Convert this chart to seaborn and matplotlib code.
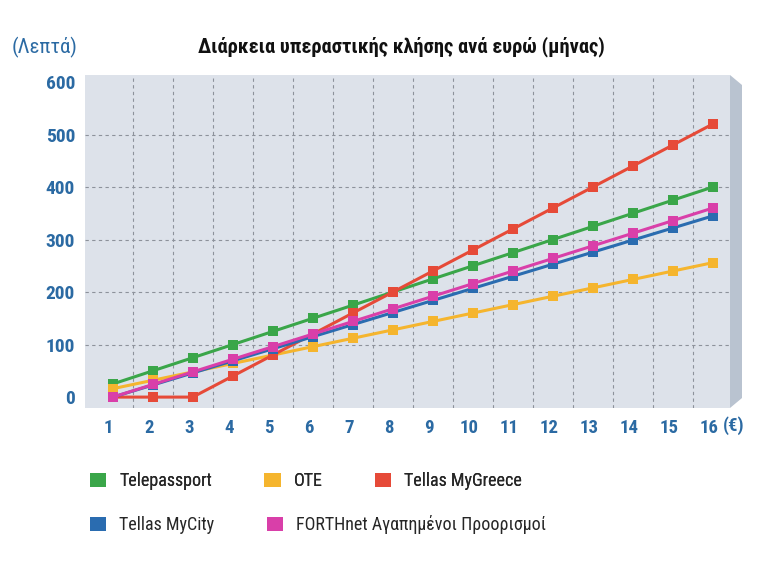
import pandas as pd
import numpy as np
import matplotlib.pyplot as plt
import matplotlib.transforms as mtrans
import seaborn as sns
from matplotlib.patches import Patch, Polygon

# values (minutes per euro spent)
euros = [1, 2, 3, 4, 5, 6, 7, 8, 9, 10, 11, 12, 13, 14, 15, 16]
telepassport = [25, 50, 75, 100, 125, 150, 175, 200, 225, 250, 275, 300, 325, 350, 375, 400]
ote = [16, 32, 48, 64, 80, 96, 112, 128, 144, 160, 176, 192, 208, 224, 240, 256]
tellas_mygreece = [0, 0, 0, 40, 80, 120, 160, 200, 240, 280, 320, 360, 400, 440, 480, 520]
tellas_mycity = [0, 23, 46, 69, 92, 115, 138, 161, 184, 207, 230, 253, 276, 299, 322, 345]
forthnet = [0, 24, 48, 72, 96, 120, 144, 168, 192, 216, 240, 264, 288, 312, 336, 360]

plans = ['Telepassport', 'OTE', 'Tellas MyGreece', 'Tellas MyCity',
         'FORTHnet Αγαπημένοι Προορισμοί']
colors = ['#3aa649', '#f5b52e', '#e64a38', '#2a6cb0', '#d93fa9']
y_ticks = [0, 100, 200, 300, 400, 500, 600]

df = pd.DataFrame({
    'euro': euros * 5,
    'minutes': telepassport + ote + tellas_mygreece + tellas_mycity + forthnet,
    'plan': np.repeat(plans, len(euros)),
})

sns.set_style('white')
plt.rcParams['font.family'] = ['Roboto Condensed', 'DejaVu Sans']
tick_blue = '#2b6aa3'

fig = plt.figure(figsize=(7.57, 5.70), dpi=100)
ax = fig.add_axes([0.112, 0.284, 0.852, 0.584])
ax.set_facecolor('#dde2ea')

sns.lineplot(data=df, x='euro', y='minutes', hue='plan', hue_order=plans,
             palette=colors, marker='s', markersize=7, markeredgewidth=0,
             linewidth=2.2, legend=False, ax=ax)

ax.set_xlim(0.3, 16.425)
ax.set_ylim(-21, 613)
ax.set_xticks(euros)
ax.set_xticks([e + 0.5 for e in euros[:-1]], minor=True)
ax.set_yticks(y_ticks)
ax.tick_params(axis='both', which='both', length=0)
ax.tick_params(axis='x', pad=8, labelsize=13.5, labelcolor=tick_blue)
ax.tick_params(axis='y', pad=7, labelsize=14, labelcolor=tick_blue)
shift = mtrans.ScaledTranslation(-4 / 100, 0, fig.dpi_scale_trans)
for lbl in ax.get_xticklabels():
    lbl.set_fontweight('bold')
    lbl.set_transform(lbl.get_transform() + shift)
for lbl in ax.get_yticklabels():
    lbl.set_fontweight('bold')
ax.set_xlabel('')
ax.set_ylabel('')
ax.grid(False)
ax.grid(axis='x', which='minor', linestyle=(0, (3, 3)), color='#8d929b', linewidth=0.8)
ax.grid(axis='y', which='major', linestyle=(0, (3, 3)), color='#8d929b', linewidth=0.8)
ax.yaxis.get_gridlines()[0].set_visible(False)
ax.yaxis.get_gridlines()[-1].set_visible(False)
ax.set_axisbelow(True)
sns.despine(ax=ax, left=True, bottom=True)

# 3D side panel of the box
W, H = 757, 570
side = Polygon([(730 / W, 1 - 75 / H), (742 / W, 1 - 85 / H),
                (742 / W, 1 - 398 / H), (730 / W, 1 - 408 / H)],
               closed=True, transform=fig.transFigure, facecolor='#b9c3d0',
               edgecolor='none')
fig.patches.append(side)

fig.text(734 / W, 1 - 426 / H, '(€)', ha='center', va='center', fontsize=13.5,
         fontweight='bold', color=tick_blue)
fig.text(45 / W, 1 - 47 / H, '(Λεπτά)', ha='center', va='center', fontsize=15,
         color=tick_blue)
fig.text(401 / W, 1 - 47 / H, 'Διάρκεια υπεραστικής κλήσης ανά ευρώ (μήνας)',
         ha='center', va='center', fontsize=14.8, fontweight='bold', color='#111111')

handles = [Patch(facecolor=c, edgecolor='none') for c in colors]
legend_kw = dict(loc='center left', frameon=False, fontsize=13,
                 handlelength=0.9, handleheight=0.8, handletextpad=0.72,
                 columnspacing=2.9, borderpad=0, borderaxespad=0)
leg1 = fig.legend(handles[:3], plans[:3], ncol=3,
                  bbox_to_anchor=(90 / W, 1 - 481 / H), **legend_kw)
leg2 = fig.legend(handles[3:], plans[3:], ncol=2,
                  bbox_to_anchor=(90 / W, 1 - 525 / H), **legend_kw)
fig.add_artist(leg1)

fig.savefig('out.png', dpi=100)
